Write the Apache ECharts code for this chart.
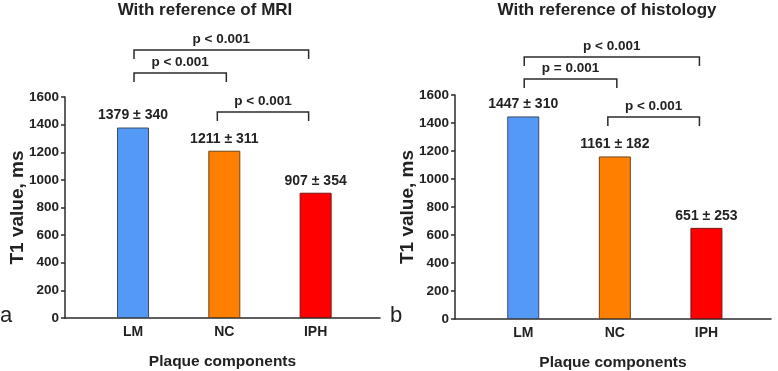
<!DOCTYPE html>
<html>
<head>
<meta charset="utf-8">
<script src="https://cdn.jsdelivr.net/npm/echarts@6/dist/echarts.min.js"></script>
<style>
  html, body { margin: 0; padding: 0; background: #fff; }
  #chart { width: 778px; height: 371px; }
</style>
</head>
<body>
<div id="chart"></div>
<script>
// data
const categories = ['LM', 'NC', 'IPH']
const yTicks = [0, 200, 400, 600, 800, 1000, 1200, 1400, 1600]

const mriMean = [1379, 1211, 907]
const mriSD = [340, 311, 354]
const mriTests = [
  ['LM', 'IPH', 'p < 0.001'],
  ['LM', 'NC', 'p < 0.001'],
  ['NC', 'IPH', 'p < 0.001']
]

const histoMean = [1447, 1161, 651]
const histoSD = [310, 182, 253]
const histoTests = [
  ['LM', 'IPH', 'p < 0.001'],
  ['LM', 'NC', 'p = 0.001'],
  ['NC', 'IPH', 'p < 0.001']
]

const FONT = 'Arial, "Liberation Sans", sans-serif'
const barColors = ['#5599f6', '#ff8000', '#ff0000']
const barBorders = ['#3c4d66', '#6e4418', '#7a1414']

const chart = echarts.init(document.getElementById('chart'))

function xAxisFor(gridIndex) {
  return {
    type: 'value',
    gridIndex,
    min: -0.745,
    max: 2.705,
    splitLine: { show: false },
    axisLine: { show: true, onZero: false, lineStyle: { color: '#2b2b2b', width: 1.5 } },
    axisTick: { show: false },
    axisLabel: {
      customValues: [0, 1, 2],
      formatter: v => categories[Math.round(v)],
      color: '#222',
      fontFamily: FONT,
      fontWeight: 'bold',
      fontSize: 14,
      margin: 7
    },
    name: 'Plaque components',
    nameLocation: 'middle',
    nameGap: 36,
    nameMoveOverlap: false,
    nameTextStyle: { color: '#222', fontFamily: FONT, fontWeight: 'bold', fontSize: 15.5 }
  }
}

function yAxisFor(gridIndex, nameGap) {
  return {
    type: 'value',
    gridIndex,
    min: yTicks[0],
    max: yTicks[yTicks.length - 1],
    interval: yTicks[1] - yTicks[0],
    splitLine: { show: false },
    axisLine: { show: true, onZero: false, lineStyle: { color: '#2b2b2b', width: 1.5 } },
    axisTick: { show: true, length: 4, lineStyle: { color: '#2b2b2b', width: 1.5 } },
    axisLabel: {
      formatter: v => String(v),
      color: '#222',
      fontFamily: FONT,
      fontWeight: 'bold',
      fontSize: 13.5,
      margin: 6
    },
    name: 'T1 value, ms',
    nameLocation: 'middle',
    nameRotate: 90,
    nameGap,
    nameMoveOverlap: false,
    nameTextStyle: { color: '#222', fontFamily: FONT, fontWeight: 'bold', fontSize: 19 }
  }
}

function barSeries(idx, means, sds) {
  return {
    type: 'bar',
    xAxisIndex: idx,
    yAxisIndex: idx,
    barWidth: 32,
    data: means.map((m, i) => ({
      value: [i, m],
      itemStyle: { color: barColors[i], borderColor: barBorders[i], borderWidth: 1 }
    })),
    label: {
      show: true,
      position: 'top',
      distance: 5,
      formatter: p => means[p.dataIndex] + ' \u00b1 ' + sds[p.dataIndex],
      color: '#222',
      fontFamily: FONT,
      fontWeight: 'bold',
      fontSize: 14
    }
  }
}

// brackets: y offsets in px from the 1600 line
function bracketSeries(idx, tests, offsets) {
  return {
    type: 'custom',
    xAxisIndex: idx,
    yAxisIndex: idx,
    clip: false,
    silent: true,
    data: tests.map(t => [categories.indexOf(t[0]), categories.indexOf(t[1])]),
    renderItem(params, api) {
      const i = params.dataIndex
      const a = api.value(0)
      const b = api.value(1)
      const y = api.coord([0, 1600])[1] + offsets[i]
      const x1 = api.coord([a, 0])[0] + (a === 1 ? -7 : 1)
      const x2 = api.coord([b, 0])[0] + (b === 2 ? -7 : 2)
      return {
        type: 'group',
        children: [
          {
            type: 'polyline',
            shape: { points: [[x1, y + 9], [x1, y], [x2, y], [x2, y + 9]] },
            style: { stroke: '#2b2b2b', lineWidth: 1.5, fill: null }
          },
          {
            type: 'text',
            style: {
              text: tests[i][2],
              x: (x1 + x2) / 2,
              y: y - 4,
              align: 'center',
              verticalAlign: 'bottom',
              fontFamily: FONT,
              fontWeight: 'bold',
              fontSize: 13.5,
              fill: '#222'
            }
          }
        ]
      }
    }
  }
}

const option = {
  animation: false,
  title: [
    {
      text: 'With reference of MRI',
      left: 200, top: -3, textAlign: 'center',
      textStyle: { color: '#222', fontFamily: FONT, fontWeight: 'bold', fontSize: 17 }
    },
    {
      text: 'With reference of histology',
      left: 602, top: -3, textAlign: 'center',
      textStyle: { color: '#222', fontFamily: FONT, fontWeight: 'bold', fontSize: 17 }
    }
  ],
  grid: [
    { left: 65, right: 398, top: 97, bottom: 53, containLabel: false, outerBoundsMode: 'none' },
    { left: 455, right: 7, top: 95, bottom: 52, containLabel: false, outerBoundsMode: 'none' }
  ],
  xAxis: [xAxisFor(0), xAxisFor(1)],
  yAxis: [yAxisFor(0, 38), yAxisFor(1, 38)],
  graphic: [
    { type: 'text', left: 0, top: 305, style: { text: 'a', fontFamily: FONT, fontSize: 22, fill: '#222' } },
    { type: 'text', left: 390, top: 305, style: { text: 'b', fontFamily: FONT, fontSize: 22, fill: '#222' } }
  ],
  series: [
    barSeries(0, mriMean, mriSD),
    barSeries(1, histoMean, histoSD),
    bracketSeries(0, mriTests, [-47, -24, 15]),
    bracketSeries(1, histoTests, [-38, -16, 22])
  ]
}

chart.setOption(option)
</script>
</body>
</html>
